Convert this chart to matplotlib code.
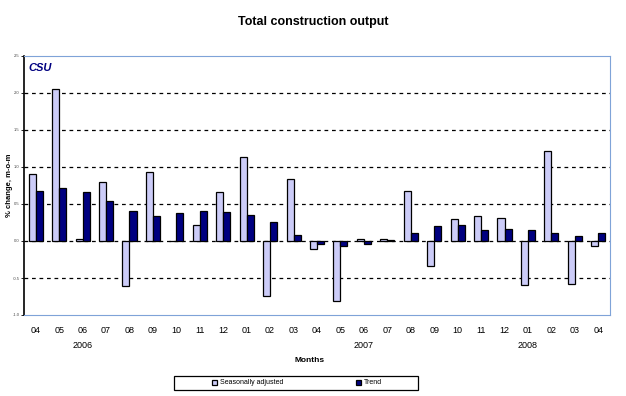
import numpy as np
import matplotlib
matplotlib.use("Agg")
import matplotlib.pyplot as plt
from matplotlib.patches import Rectangle

plt.rcParams['font.family'] = ['Liberation Sans', 'DejaVu Sans']

# monthly % change, Apr 2006 - Apr 2008
months = ['04', '05', '06', '07', '08', '09', '10', '11', '12',
          '01', '02', '03', '04', '05', '06', '07', '08', '09', '10', '11', '12',
          '01', '02', '03', '04']
seas_adj = [0.91, 2.05, 0.03, 0.80, -0.61, 0.93, 0.00, 0.22, 0.66,
            1.14, -0.74, 0.84, -0.11, -0.81, 0.03, 0.03, 0.68, -0.34, 0.30, 0.34, 0.31,
            -0.59, 1.22, -0.58, -0.07]
trend = [0.67, 0.72, 0.66, 0.54, 0.41, 0.34, 0.38, 0.41, 0.39,
         0.35, 0.26, 0.08, -0.04, -0.07, -0.045, 0.01, 0.11, 0.20, 0.22, 0.15, 0.16,
         0.15, 0.11, 0.07, 0.11]
years = ['2006', '2007', '2008']
year_pos = [2, 14, 21]   # which month label the year sits under
yticks = [-1.0, -0.5, 0.0, 0.5, 1.0, 1.5, 2.0, 2.5]

fig = plt.figure(figsize=(6.26, 3.96), dpi=100)
ax = fig.add_axes([24/626, 1 - 315/396, (610-24)/626, (315-56)/396])

x = np.arange(len(months))
w = 0.3
ax.bar(x - w/2, seas_adj, w, color='#ccccf8', edgecolor='black', linewidth=0.9,
       label='Seasonally adjusted', zorder=3)
ax.bar(x + w/2, trend, w, color='#000080', edgecolor='black', linewidth=0.9,
       label='Trend', zorder=3)

ax.set_xlim(-0.5, len(months) - 0.5)
ax.set_ylim(yticks[0], yticks[-1])
ax.set_yticks(yticks)
ax.set_yticklabels(['%.1f' % v for v in yticks], fontsize=3, color='#444444')
for v in yticks[1:-1]:
    ax.axhline(v, color='black', lw=0.9, ls=(0, (3, 3)), zorder=1)

ax.set_xticks(x)
ax.set_xticklabels(months, fontsize=6.5)
ax.tick_params(axis='x', length=0, pad=8)
ax.tick_params(axis='y', length=2, width=0.6, pad=1)

for s in ['top', 'right', 'bottom']:
    ax.spines[s].set_color('#7fa3d8')
ax.spines['left'].set_color('black')
ax.spines['left'].set_linewidth(1.2)

for yr, p in zip(years, year_pos):
    ax.text(p, -0.116, yr, transform=ax.get_xaxis_transform(), ha='center',
            va='center', fontsize=6.5)

ax.text(4/586, 0.955, 'CSU', transform=ax.transAxes, fontsize=8, color='#000080',
        fontweight='bold', fontstyle='italic', va='center', ha='left')

fig.text(0.5, 1 - 22/396, 'Total construction output', ha='center', va='center',
         fontsize=9, fontweight='bold')
fig.text(310/626, 1 - 360/396, 'Months', ha='center', va='center',
         fontsize=6, fontweight='bold')
fig.text(10/626, 1 - 185/396, '% change, m-o-m', ha='center', va='center',
         rotation=90, fontsize=5.5, fontweight='bold')

leg = fig.legend(loc='center', ncol=2, bbox_to_anchor=(297/626, 1 - 383/396),
                 fontsize=5, frameon=False, columnspacing=10.5, borderpad=0,
                 handlelength=0.7, handleheight=0.7, handletextpad=0.4)
fig.patches.append(Rectangle((174/626, 1 - 390/396), (418-174)/626, 14/396,
                             transform=fig.transFigure, fill=False,
                             edgecolor='black', linewidth=0.9))

fig.savefig('out.png', dpi=100)
